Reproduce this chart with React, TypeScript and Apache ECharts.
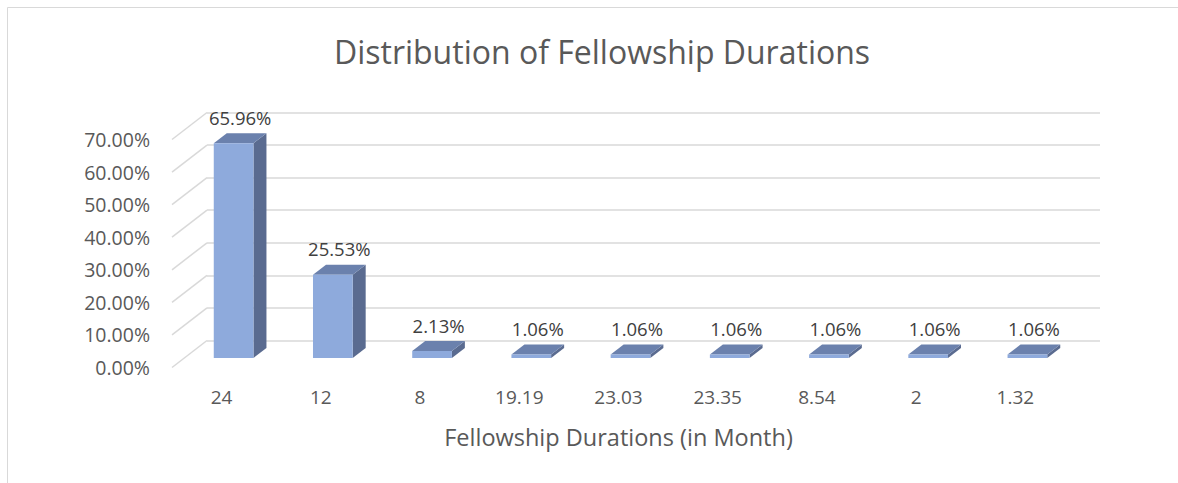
import React, { useEffect, useRef } from "react";
import * as echarts from "echarts";

const categories = ["24", "12", "8", "19.19", "23.03", "23.35", "8.54", "2", "1.32"];
const shares = [65.96, 25.53, 2.13, 1.06, 1.06, 1.06, 1.06, 1.06, 1.06];
const yTicks = [0, 10, 20, 30, 40, 50, 60, 70];

const FONT = "'Open Sans', sans-serif";
const TEXT = "#595959";
const GRID_LINE = "#d9d9d9";

// plane geometry (back wall, front plane, bar plane)
const BACK = { left: 207, top: 112.5 };
const FRONT = { left: 172, top: 139.5 };
const BARP = { left: 184, top: 130 };
const PLOT_W = 893;
const PLOT_H = 228;
const BAR_DX = 13;
const BAR_DY = 10;

export default function App() {
  const ref = useRef<HTMLDivElement>(null);
  useEffect(() => {
    if (!ref.current) return;
    const chart = echarts.init(ref.current, undefined, { renderer: "svg" });
    const wallDX = BACK.left - FRONT.left;
    const wallDY = FRONT.top - BACK.top;
    const yAxisBase = { type: "value", min: 0, max: 70, interval: 10 };
    chart.setOption({
      animation: false,
      backgroundColor: "#ffffff",
      title: {
        text: "Distribution of Fellowship Durations",
        left: 597,
        textAlign: "center",
        top: 30,
        textStyle: { fontFamily: FONT, fontSize: 32, fontWeight: "normal", color: TEXT },
      },
      graphic: [
        { type: "line", shape: { x1: 7.5, y1: 7.5, x2: 1178, y2: 7.5 }, style: { stroke: "#d9d9d9", lineWidth: 1 } },
        { type: "line", shape: { x1: 7.5, y1: 7.5, x2: 7.5, y2: 483 }, style: { stroke: "#d9d9d9", lineWidth: 1 } },
      ],
      grid: [
        { left: BACK.left, top: BACK.top, width: PLOT_W, height: PLOT_H },
        { left: FRONT.left, top: FRONT.top, width: PLOT_W, height: PLOT_H },
        { left: BARP.left, top: BARP.top, width: PLOT_W, height: PLOT_H },
      ],
      xAxis: [
        { type: "category", data: categories, gridIndex: 0, show: false },
        {
          type: "category",
          data: categories,
          gridIndex: 1,
          axisLine: { show: false },
          axisTick: { show: false },
          axisLabel: { color: TEXT, fontFamily: FONT, fontSize: 19, margin: 20 },
          name: "Fellowship Durations (in Month)",
          nameLocation: "middle",
          nameGap: 57,
          nameTextStyle: { color: TEXT, fontFamily: FONT, fontSize: 23.5 },
        },
        { type: "category", data: categories, gridIndex: 2, show: false },
      ],
      yAxis: [
        {
          ...yAxisBase,
          gridIndex: 0,
          axisLine: { show: false },
          axisTick: { show: false },
          axisLabel: { show: false },
          splitLine: { show: true, lineStyle: { color: GRID_LINE, width: 1.5 } },
        },
        {
          ...yAxisBase,
          gridIndex: 1,
          axisLine: { show: false },
          axisTick: { show: false },
          splitLine: { show: false },
          axisLabel: {
            color: TEXT,
            fontFamily: FONT,
            fontSize: 19.5,
            margin: 22,
            formatter: (v: number) => v.toFixed(2) + "%",
          },
        },
        { ...yAxisBase, gridIndex: 2, show: false, splitLine: { show: false } },
      ],
      series: [
        {
          type: "custom",
          xAxisIndex: 0,
          yAxisIndex: 0,
          silent: true,
          data: yTicks.map((t) => [0, t]),
          renderItem: (params: any, api: any) => {
            const p = api.coord([0, api.value(1)]);
            const bx = params.coordSys.x;
            return {
              type: "line",
              shape: { x1: bx - wallDX, y1: p[1] + wallDY, x2: bx, y2: p[1] },
              style: { stroke: GRID_LINE, lineWidth: 1.5 },
            };
          },
        },
        {
          type: "custom",
          xAxisIndex: 2,
          yAxisIndex: 2,
          data: shares.map((v, i) => [i, v]),
          renderItem: (params: any, api: any) => {
            const i = api.value(0);
            const v = api.value(1);
            const top = api.coord([i, v]);
            const base = api.coord([i, 0]);
            const bw = api.size([1, 0])[0] * 0.4;
            const x0 = top[0] - bw / 2;
            const x1 = top[0] + bw / 2;
            const ty = top[1];
            const by = base[1];
            return {
              type: "group",
              children: [
                {
                  type: "polygon",
                  shape: { points: [[x1, ty], [x1 + BAR_DX, ty - BAR_DY], [x1 + BAR_DX, by - BAR_DY], [x1, by]] },
                  style: { fill: "#5a6b90" },
                },
                {
                  type: "polygon",
                  shape: { points: [[x0, ty], [x0 + BAR_DX, ty - BAR_DY], [x1 + BAR_DX, ty - BAR_DY], [x1, ty]] },
                  style: { fill: "#6b81ad" },
                },
                {
                  type: "rect",
                  shape: { x: x0, y: ty, width: bw, height: by - ty },
                  style: { fill: "#8eaadc" },
                },
                {
                  type: "text",
                  x: (x0 + x1) / 2 + BAR_DX / 2,
                  y: ty - BAR_DY - 16,
                  style: {
                    text: v.toFixed(2) + "%",
                    fill: "#404040",
                    font: `18.5px ${FONT}`,
                    align: "center",
                    verticalAlign: "middle",
                  },
                },
              ],
            };
          },
        },
      ],
    });
    return () => chart.dispose();
  }, []);
  return (
    <div
      ref={ref}
      style={{ position: "absolute", left: 0, top: 0, width: 1178, height: 483 }}
    />
  );
}
